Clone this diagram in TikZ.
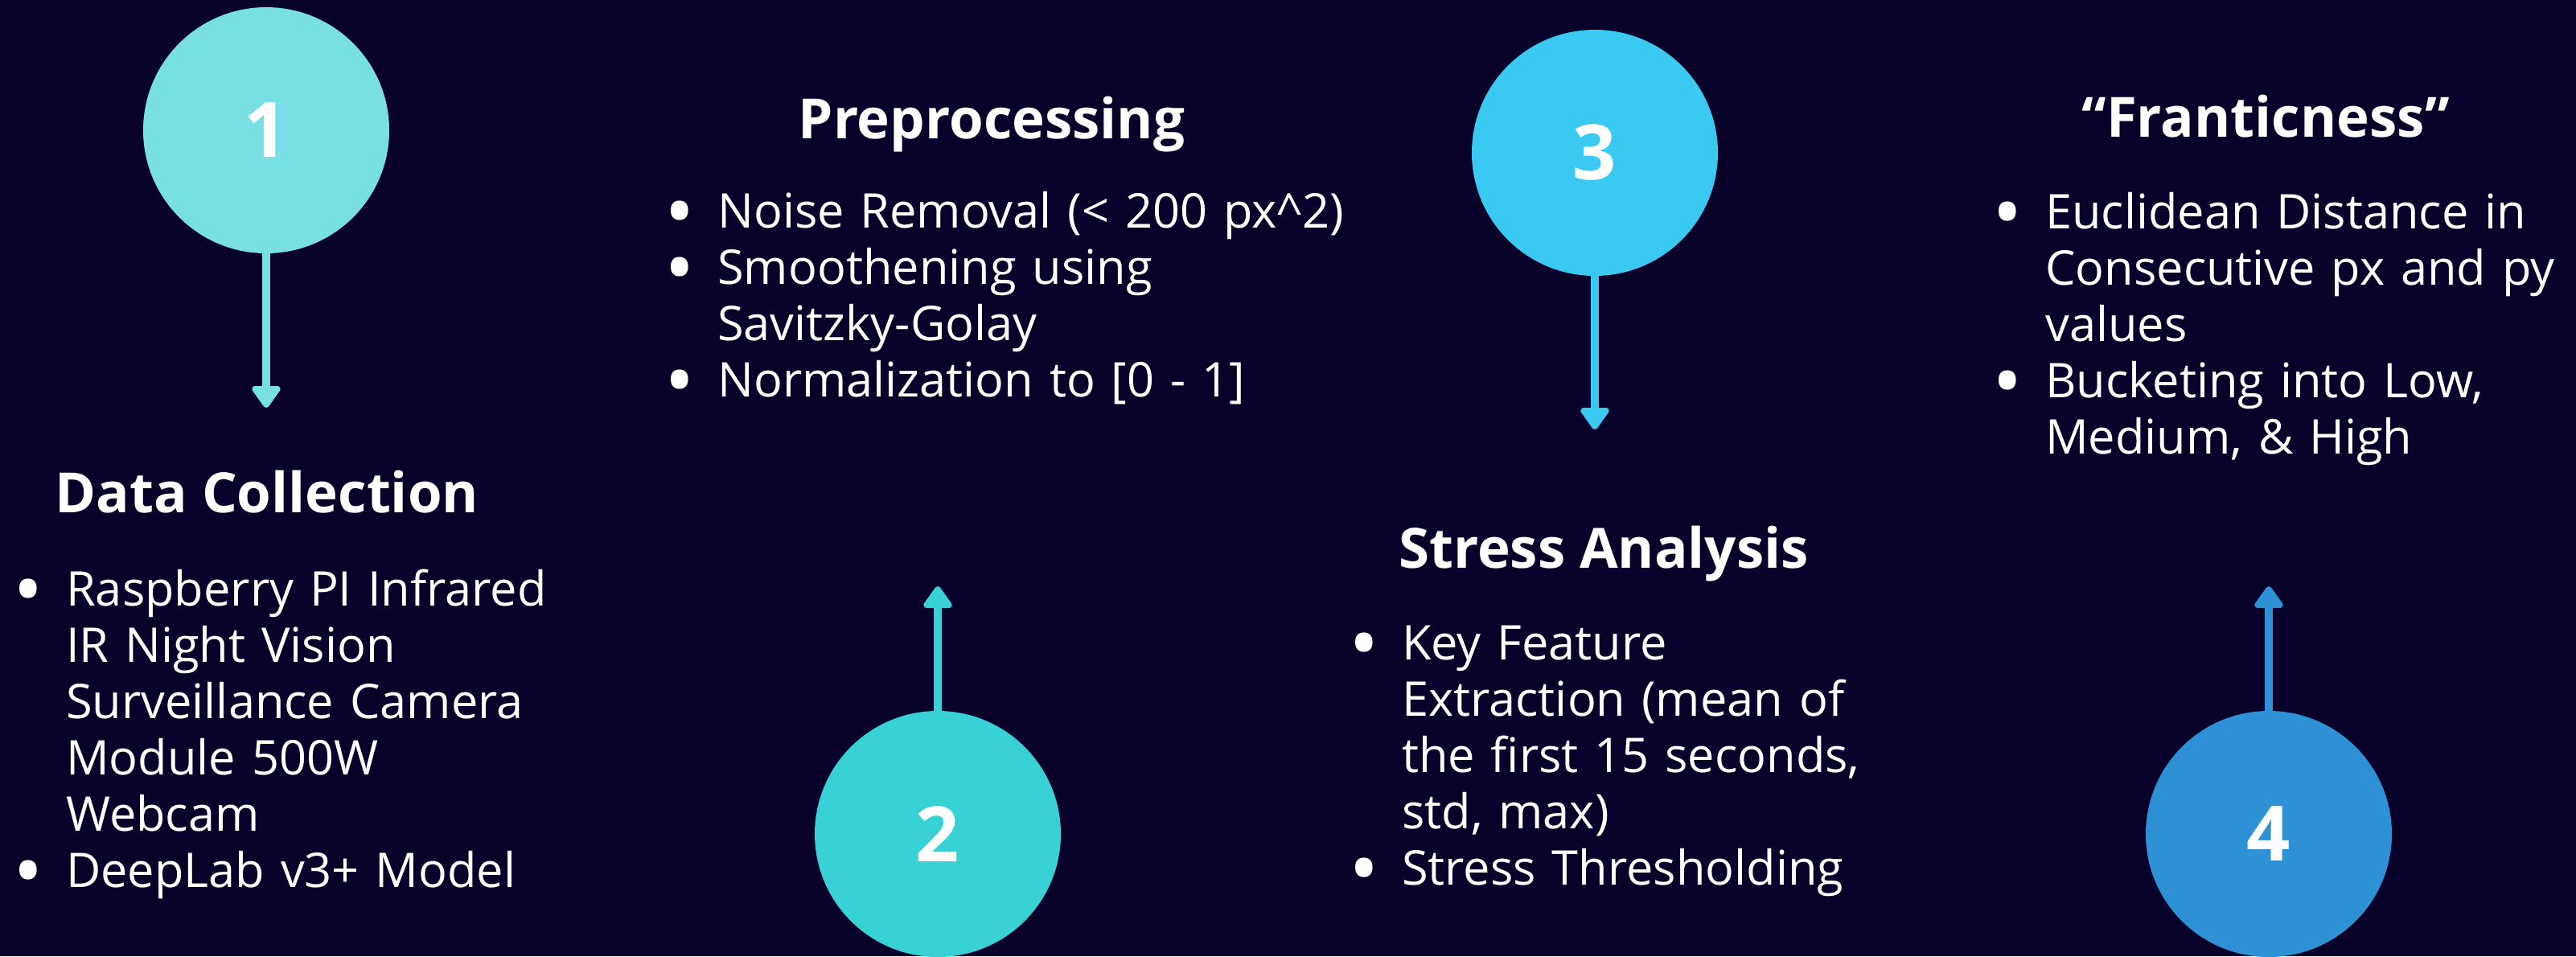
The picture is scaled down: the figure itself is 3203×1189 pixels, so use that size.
\documentclass[tikz,border=0pt]{standalone}
\usepackage{fontspec}
\usepackage{graphicx}
\setmainfont{Open Sans}
\usetikzlibrary{arrows.meta}

\definecolor{bgnavy}{HTML}{08022B}
\definecolor{stepA}{HTML}{78DFE4}
\definecolor{stepB}{HTML}{37D1D6}
\definecolor{stepC}{HTML}{3AC9F0}
\definecolor{stepD}{HTML}{2E90D5}

% hanging bullet, centred 47pt left of the item text
\newcommand{\bulletmark}{\leavevmode\llap{\makebox[0pt][c]{\raisebox{-15pt}{\scalebox{1.68}{\textbullet}}}\hspace{47pt}}}

\begin{document}
\begin{tikzpicture}[x=1pt,y=-1pt,
  stepcircle/.style={circle, minimum size=306pt, inner sep=0pt, text=white,
    font=\fontsize{95}{95}\selectfont\bfseries},
  heading/.style={anchor=base, text=white, inner sep=0pt,
    font=\fontsize{69}{80}\selectfont\bfseries},
  itemlist/.style={anchor=base west, text=white, inner sep=0pt, text width=1000pt,
    align=left, font=\fontsize{59.5}{70}\selectfont},
  flow/.style={line width=10pt, -{Triangle[length=30pt,width=40pt,round]}}]

  % page and background
  \useasboundingbox (0,0) rectangle (3203,1189);
  \fill[bgnavy] (0,0) rectangle (3203,1189);

  % numbered step circles
  \node[stepcircle, fill=stepA] (s1) at (331,162) {1};
  \node[stepcircle, fill=stepB] (s2) at (1166,1037) {2};
  \node[stepcircle, fill=stepC] (s3) at (1983,190) {3};
  \node[stepcircle, fill=stepD] (s4) at (2821,1037) {4};

  % arrow tips
  \coordinate (t1) at (331,507);
  \coordinate (t2) at (1166,729);
  \coordinate (t3) at (1983,534);
  \coordinate (t4) at (2821,729);

  \draw[flow, stepA] (s1.south) -- (t1);
  \draw[flow, stepB] (s2.north) -- (t2);
  \draw[flow, stepC] (s3.south) -- (t3);
  \draw[flow, stepD] (s4.north) -- (t4);

  % step 1
  \node[heading] (h1) at (332,637) {Data Collection};
  \node[itemlist] (l1) at (82,753) {\bulletmark Raspberry PI Infrared\\IR Night Vision\\Surveillance Camera\\Module 500W\\Webcam\par
    \bulletmark DeepLab v3+ Model};

  % step 2
  \node[heading] (h2) at (1233,172) {Preprocessing};
  \node[itemlist] (l2) at (892,283) {\bulletmark Noise Removal (< 200 px\textasciicircum 2)\par
    \bulletmark Smoothening using\\Savitzky-Golay\par
    \bulletmark Normalization to [0 - 1]};

  % step 3
  \node[heading] (h3) at (1994,706) {Stress Analysis};
  \node[itemlist] (l3) at (1743,820) {\bulletmark Key Feature\\Extraction (mean of\\the first 15 seconds,\\std, max)\par
    \bulletmark Stress Thresholding};

  % step 4
  \node[heading] (h4) at (2817,170) {“Franticness”};
  \node[itemlist] (l4) at (2543,284) {\bulletmark Euclidean Distance in\\Consecutive px and py\\values\par
    \bulletmark Bucketing into Low,\\Medium, \& High};
\end{tikzpicture}
\end{document}
